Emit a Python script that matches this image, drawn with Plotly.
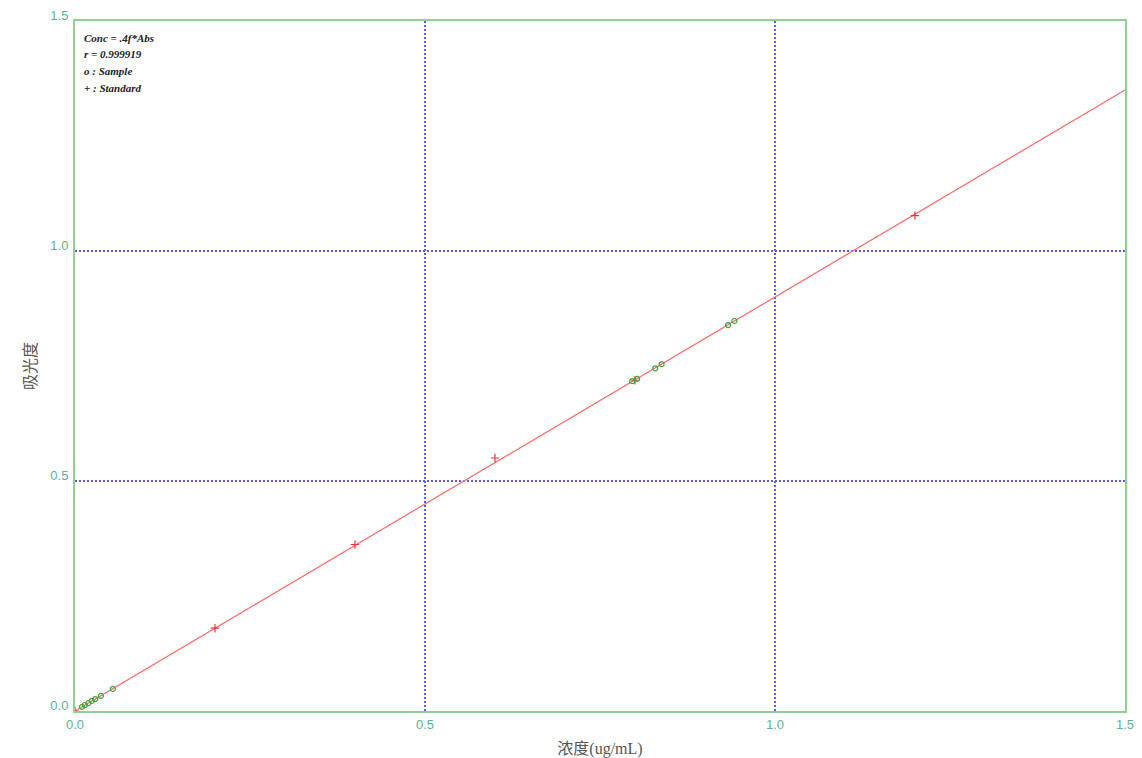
import plotly.graph_objects as go

# calibration data

std_conc = [0.0, 0.2, 0.4, 0.6, 0.8, 1.2]
std_abs = [0.0, 0.180, 0.362, 0.550, 0.719, 1.077]

sample_conc = [0.010, 0.014, 0.019, 0.024, 0.029, 0.037, 0.054,
               0.796, 0.803, 0.829, 0.838, 0.933, 0.942]
sample_abs = [0.009, 0.013, 0.017, 0.022, 0.026, 0.033, 0.048,
              0.717, 0.722, 0.745, 0.754, 0.839, 0.848]

fit_conc = [0.0, 1.5]
fit_abs = [0.0, 1.35]

tick_vals = [0.0, 0.5, 1.0, 1.5]
tick_text = ["0.0", "0.5", "1.0", "1.5"]

legend_lines = ["Conc = .4f*Abs", "r = 0.999919", "o : Sample", "+ : Standard"]

FRAME = "#8fd28f"
TICK_COLOR = "#5fb38c"
GRID = "#5a5aff"

fig = go.Figure()

fig.add_trace(go.Scatter(
    x=fit_conc, y=fit_abs, mode="lines",
    line=dict(color="#ff7070", width=1.3), showlegend=False,
))
fig.add_trace(go.Scatter(
    x=std_conc, y=std_abs, mode="markers",
    marker=dict(symbol="cross-thin", size=6, line=dict(color="#ff3030", width=1.2)),
    showlegend=False,
))
fig.add_trace(go.Scatter(
    x=sample_conc, y=sample_abs, mode="markers",
    marker=dict(symbol="circle-open", size=5, color="#3aa63a", line=dict(width=1.2)),
    showlegend=False,
))

axis_common = dict(
    range=[0, 1.5], tickvals=tick_vals, ticktext=tick_text,
    showline=True, linecolor=FRAME, linewidth=2, mirror=True,
    showgrid=True, gridcolor=GRID, griddash="2px,2px", gridwidth=1.5,
    zeroline=False, ticks="", automargin=False, ticklabeloverflow="allow",
    tickfont=dict(family="Liberation Sans", size=13, color=TICK_COLOR),
)

# the page body adds an 8px offset, so margins are trimmed to match
annots = [
    dict(xref="paper", yref="paper", x=0.007, y=0.976 - i * 0.0245,
         xanchor="left", yanchor="middle", showarrow=False,
         text=f"<b><i>{t}</i></b>",
         font=dict(family="Liberation Serif", size=11, color="#222222"))
    for i, t in enumerate(legend_lines)
]

fig.update_layout(
    width=1142, height=758,
    paper_bgcolor="white", plot_bgcolor="white",
    margin=dict(l=67, r=25, t=13, b=55),
    xaxis=dict(
        title=dict(text="浓度(ug/mL)", standoff=12,
                   font=dict(family="Liberation Serif, Noto Sans CJK SC", size=16, color="#555555")),
        ticklabelstandoff=0,
        **axis_common,
    ),
    yaxis=dict(
        title=dict(text="吸光度", standoff=10,
                   font=dict(family="Liberation Serif, Noto Sans CJK SC", size=16, color="#555555")),
        ticklabelstandoff=2, ticklabelshift=-6,
        **axis_common,
    ),
    annotations=annots,
    shapes=[
        dict(type="line", xref="paper", yref="paper", x0=1.0114, x1=1.0114,
             y0=-0.08, y1=1.02, line=dict(color="#e8e8e8", width=1)),
    ],
)

fig.write_html("out.html")
